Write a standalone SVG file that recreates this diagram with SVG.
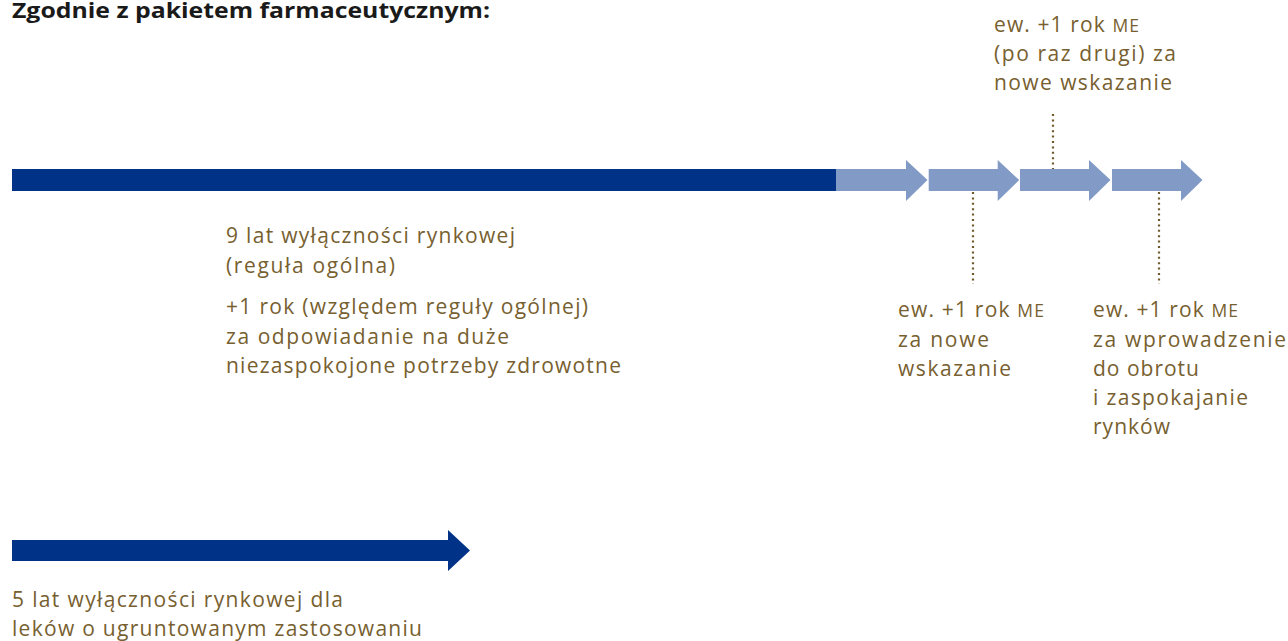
<svg xmlns="http://www.w3.org/2000/svg" width="1288" height="641" viewBox="0 0 1288 641">
<style>
.t{font-family:"Open Sans","Noto Sans",sans-serif;font-size:21px;fill:#77602f}
.sc{font-size:17.5px}
.title{font-family:"Open Sans","Noto Sans",sans-serif;font-size:21px;font-weight:bold;fill:#1a1a1a}
.dark{fill:#003288}
.light{fill:#819ac6}
.dot{stroke:#6f5a2c;stroke-width:2.2;stroke-dasharray:2 3.4;fill:none}
</style>
<rect width="1288" height="641" fill="#ffffff"/>
<g id="title"><text class="title" x="12" y="18" textLength="478" lengthAdjust="spacingAndGlyphs">Zgodnie z pakietem farmaceutycznym:</text></g>
<g id="main-bar"><rect class="dark" x="12" y="169" width="824" height="22"/></g>
<g id="arrow1"><polygon class="light" points="836,169 906,169 906,160 927.5,180 906,201 906,191 836,191"/></g>
<g id="arrow2"><polygon class="light" points="928.7,169 997.7,169 997.7,160 1019.2,180 997.7,201 997.7,191 928.7,191"/></g>
<g id="arrow3"><polygon class="light" points="1020,169 1089,169 1089,160 1110.5,180 1089,201 1089,191 1020,191"/></g>
<g id="arrow4"><polygon class="light" points="1112,169 1181,169 1181,160 1202.5,180 1181,201 1181,191 1112,191"/></g>
<g id="connectors">
<line class="dot" x1="1053" y1="114" x2="1053" y2="169"/>
<line class="dot" x1="973" y1="192" x2="973" y2="284"/>
<line class="dot" x1="1159" y1="192" x2="1159" y2="284"/>
</g>
<g id="label-general">
<text class="t" x="226" y="243" textLength="289">9 lat wyłączności rynkowej</text>
<text class="t" x="226" y="272.5" textLength="169">(reguła ogólna)</text>
<text class="t" x="226" y="314" textLength="362">+1 rok (względem reguły ogólnej)</text>
<text class="t" x="226" y="343.5" textLength="283">za odpowiadanie na duże</text>
<text class="t" x="226" y="373" textLength="395">niezaspokojone potrzeby zdrowotne</text>
</g>
<g id="label-top">
<text class="t" x="994" y="32" textLength="145">ew. +1 rok <tspan class="sc">ME</tspan></text>
<text class="t" x="994" y="61" textLength="182">(po raz drugi) za</text>
<text class="t" x="994" y="90" textLength="178">nowe wskazanie</text>
</g>
<g id="label-new-indication">
<text class="t" x="898" y="317" textLength="146">ew. +1 rok <tspan class="sc">ME</tspan></text>
<text class="t" x="898" y="346.5" textLength="91">za nowe</text>
<text class="t" x="898" y="376" textLength="113">wskazanie</text>
</g>
<g id="label-market">
<text class="t" x="1093" y="317" textLength="145">ew. +1 rok <tspan class="sc">ME</tspan></text>
<text class="t" x="1093" y="346.5" textLength="193">za wprowadzenie</text>
<text class="t" x="1093" y="376" textLength="106">do obrotu</text>
<text class="t" x="1093" y="405" textLength="155">i zaspokajanie</text>
<text class="t" x="1093" y="434" textLength="77">rynków</text>
</g>
<g id="bottom-arrow"><polygon class="dark" points="12,540 448,540 448,530 470,550.5 448,571 448,561 12,561"/></g>
<g id="label-bottom">
<text class="t" x="12" y="607" textLength="331">5 lat wyłączności rynkowej dla</text>
<text class="t" x="12" y="636" textLength="410">leków o ugruntowanym zastosowaniu</text>
</g>
</svg>
